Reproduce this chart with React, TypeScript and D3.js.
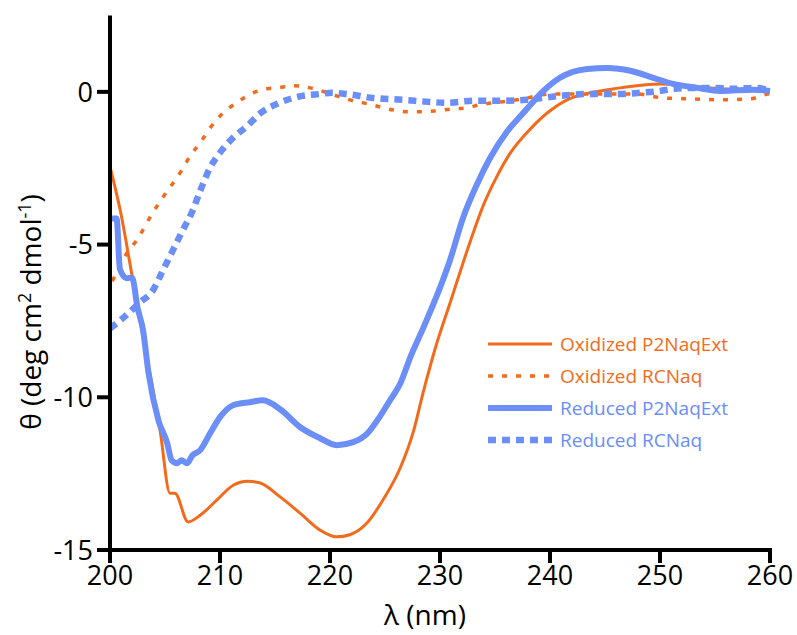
import React from 'react';
import * as d3 from 'd3';

// wavelength (nm) / mean residue ellipticity
const oxP2Nm = [200, 201, 202, 203, 204, 204.55, 205.45, 205.9, 207.1, 208.2, 209.7, 211.2, 212.5, 213.6, 215.5, 217.3, 219.1, 220.6, 221.8, 223.4, 224.8, 226.4, 227.6, 228.5, 229.7, 230.9, 232.7, 233.9, 235.2, 236.4, 238.2, 240, 241.5, 243.4, 246.4, 250, 252.5, 255.5, 258, 260];
const oxP2Theta = [-2.45, -4.0, -6.0, -7.95, -9.95, -11.08, -13.14, -13.14, -14.08, -13.86, -13.37, -12.88, -12.75, -12.8, -13.27, -13.8, -14.35, -14.57, -14.5, -14.1, -13.37, -12.3, -11.1, -9.8, -8.24, -6.93, -4.95, -3.75, -2.75, -2.0, -1.22, -0.62, -0.27, -0.05, 0.13, 0.26, 0.2, 0.1, 0.05, 0.03];

const oxRCNm = [200.2, 200.7, 201.5, 202.4, 203.9, 204.8, 206.5, 207.3, 208.2, 209.1, 210.2, 211.5, 213, 214.3, 215.2, 216.6, 218.2, 220.6, 222.1, 223.4, 225.7, 227.1, 228.5, 229.7, 231.1, 232.5, 233.6, 234.8, 236.4, 237.5, 240, 242.7, 245.2, 247.9, 250.3, 253, 255.5, 258.2, 259.5, 260];
const oxRCTheta = [-6.2, -5.85, -5.3, -4.87, -3.95, -3.46, -2.58, -2.09, -1.67, -1.18, -0.72, -0.36, -0.03, 0.1, 0.13, 0.2, 0.13, -0.13, -0.29, -0.39, -0.59, -0.65, -0.65, -0.62, -0.56, -0.52, -0.42, -0.36, -0.29, -0.23, -0.07, -0.07, -0.07, -0.07, -0.2, -0.23, -0.26, -0.23, -0.1, -0.05];

const redP2Nm = [200.1, 200.6, 200.9, 201.5, 202, 202.5, 203, 203.5, 204.4, 205.2, 205.6, 206.1, 206.5, 207, 207.5, 208.2, 209.1, 210, 211.2, 212.7, 213.9, 215.5, 217.3, 219.1, 220.6, 222.1, 223.4, 224.5, 225.45, 226.4, 227.3, 228.5, 230, 230.9, 232.1, 233.4, 234.5, 236.1, 237.5, 239.4, 240.9, 243.4, 245.2, 247.3, 249.4, 251.2, 253.4, 255.5, 258.5, 260];
const redP2Theta = [-4.15, -4.15, -5.8, -6.1, -6.08, -7.06, -7.8, -9.2, -10.75, -11.5, -12.06, -12.16, -12.06, -12.16, -11.9, -11.73, -11.18, -10.65, -10.26, -10.16, -10.1, -10.4, -10.98, -11.34, -11.57, -11.47, -11.18, -10.65, -10.1, -9.54, -8.69, -7.71, -6.41, -5.52, -4.12, -3.0, -2.2, -1.3, -0.72, 0.03, 0.46, 0.75, 0.78, 0.69, 0.46, 0.26, 0.13, 0.03, 0.07, 0.03];

const redRCNm = [200, 201.2, 202.7, 203.9, 204.8, 205.7, 206.6, 207.5, 208.2, 209.1, 210, 211.2, 212.5, 213.6, 215.2, 217.5, 219.1, 220.2, 221.5, 223.9, 226.6, 229.1, 230.6, 233, 235.5, 237.9, 240.9, 243.4, 246.1, 248.2, 250, 251.2, 253.4, 255.2, 256.4, 258.8, 260];
const redRCTheta = [-7.75, -7.4, -6.9, -6.5, -5.85, -5.2, -4.54, -3.9, -3.24, -2.48, -1.99, -1.5, -1.11, -0.72, -0.39, -0.13, -0.07, -0.03, -0.07, -0.2, -0.26, -0.33, -0.36, -0.29, -0.29, -0.26, -0.13, -0.07, -0.07, -0.03, 0.03, 0.1, 0.13, 0.13, 0.1, 0.13, 0.03];

const xTicks = [200, 210, 220, 230, 240, 250, 260];
const yTicks = [0, -5, -10, -15];

const seriesNames = ['Oxidized P2NaqExt', 'Oxidized RCNaq', 'Reduced P2NaqExt', 'Reduced RCNaq'];

const ORANGE = '#f26b1d';
const BLUE = '#6b8ef8';
const FONT = '"Open Sans", "DejaVu Sans", sans-serif';

export default function App() {
  const x = d3.scaleLinear().domain([200, 260]).range([110, 770]);
  const y = d3.scaleLinear().domain([-15, 2.5]).range([550, 15.5]);

  const line = d3.line<[number, number]>()
    .x(d => x(d[0]))
    .y(d => y(d[1]))
    .curve(d3.curveMonotoneX);

  const zip = (a: number[], b: number[]) => a.map((v, i) => [v, b[i]] as [number, number]);

  const series = [
    { name: seriesNames[0], d: line(zip(oxP2Nm, oxP2Theta)), color: ORANGE, w: 3, dash: undefined },
    { name: seriesNames[1], d: line(zip(oxRCNm, oxRCTheta)), color: ORANGE, w: 3.5, dash: '5,9' },
    { name: seriesNames[2], d: line(zip(redP2Nm, redP2Theta)), color: BLUE, w: 6, dash: undefined },
    { name: seriesNames[3], d: line(zip(redRCNm, redRCTheta)), color: BLUE, w: 6.5, dash: '8,6' },
  ];

  const legendY = [344, 376, 408, 440];

  return (
    <svg width={797} height={635} style={{ position: 'absolute', left: 0, top: 0 }} fontFamily={FONT}>
      <rect width={797} height={635} fill="#fff" />

      {/* curves */}
      {series.map(s => (
        <path key={s.name} d={s.d || ''} fill="none" stroke={s.color} strokeWidth={s.w}
              strokeDasharray={s.dash} strokeLinejoin="round" />
      ))}

      {/* y axis */}
      <line x1={x(200)} x2={x(200)} y1={y(2.5)} y2={y(-15) + 2} stroke="#000" strokeWidth={4} />
      {yTicks.map(t => (
        <g key={t}>
          <line x1={x(200) - 13} x2={x(200)} y1={y(t)} y2={y(t)} stroke="#000" strokeWidth={4} />
          <text x={x(200) - 17} y={y(t)} dy="0.36em" textAnchor="end" fontSize={27}>{t}</text>
        </g>
      ))}

      {/* x axis */}
      <line x1={x(200) - 2} x2={x(260) + 2} y1={y(-15)} y2={y(-15)} stroke="#000" strokeWidth={4} />
      {xTicks.map(t => (
        <g key={t}>
          <line x1={x(t)} x2={x(t)} y1={y(-15)} y2={y(-15) + 13} stroke="#000" strokeWidth={4} />
          <text x={x(t)} y={585} textAnchor="middle" fontSize={27}>{t}</text>
        </g>
      ))}

      {/* axis titles */}
      <text x={425} y={625} textAnchor="middle" fontSize={28}>λ (nm)</text>
      <text transform="translate(41,312) rotate(-90)" textAnchor="middle" fontSize={28}>
        θ (deg cm<tspan dy="-10" fontSize={18}>2</tspan><tspan dy="10"> dmol</tspan>
        <tspan dy="-10" fontSize={18}>-1</tspan><tspan dy="10">)</tspan>
      </text>

      {/* legend */}
      {series.map((s, i) => (
        <g key={'lg' + s.name}>
          <line x1={488} x2={552} y1={legendY[i]} y2={legendY[i]} stroke={s.color}
                strokeWidth={s.w} strokeDasharray={s.dash} />
          <text x={560} y={legendY[i]} dy="0.35em" fill={s.color} fontSize={19}>{s.name}</text>
        </g>
      ))}
    </svg>
  );
}
